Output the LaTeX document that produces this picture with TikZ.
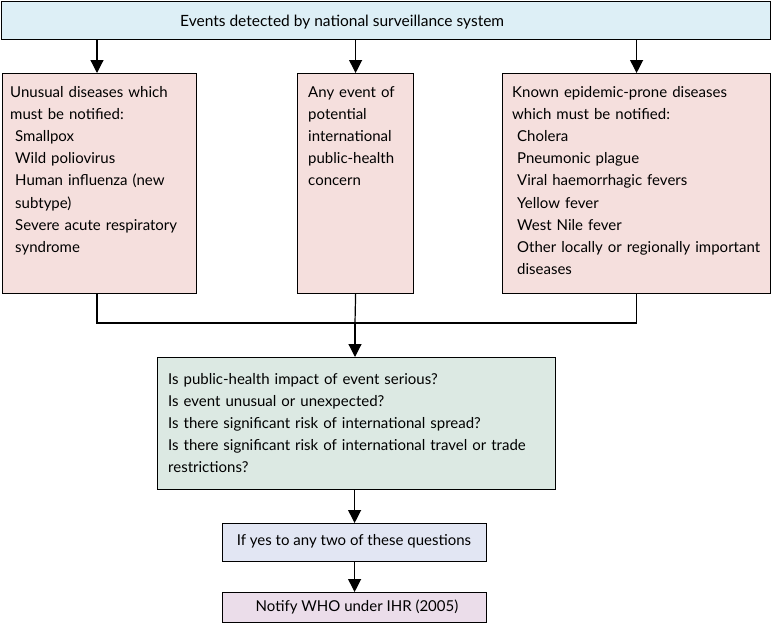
\documentclass[tikz,border=0pt]{standalone}
\usepackage{fontspec}
\setmainfont{Lato}
\usetikzlibrary{arrows.meta}
\definecolor{topblue}{HTML}{DDEFF6}
\definecolor{pinkf}{HTML}{F5DFDD}
\definecolor{greenf}{HTML}{DCE9E3}
\definecolor{bluef}{HTML}{E2E6F3}
\definecolor{purpf}{HTML}{EBDDEA}
\begin{document}
\begin{tikzpicture}[x=1pt,y=-1pt,
  box/.style={draw, line width=1.2pt, inner sep=0pt, anchor=north west},
  txt/.style={inner sep=0pt, anchor=base west, align=left, font=\fontsize{15}{22.2}\selectfont},
  ctxt/.style={inner sep=0pt, anchor=base, font=\fontsize{15}{22.2}\selectfont},
  arr/.style={-{Triangle[length=13pt,width=13pt]}, line width=1.2pt},
  ln/.style={line width=1.2pt}]
\useasboundingbox (0,0) rectangle (772,632);
% boxes
\node[box, fill=topblue, minimum width=769pt, minimum height=38pt] (top) at (1,1) {};
\node[box, fill=pinkf, minimum width=194pt, minimum height=220pt] (left) at (2,73) {};
\node[box, fill=pinkf, minimum width=116pt, minimum height=220pt] (mid) at (297,73) {};
\node[box, fill=pinkf, minimum width=268pt, minimum height=220pt] (right) at (502,73) {};
\node[box, fill=greenf, minimum width=398pt, minimum height=132pt] (q) at (157,357) {};
\node[box, fill=bluef, minimum width=264pt, minimum height=38pt] (yes) at (222,523) {};
\node[box, fill=purpf, minimum width=264pt, minimum height=30pt] (who) at (222,592) {};
% texts
\node[txt, font=\fontsize{15.5}{22.2}\selectfont] (toptxt) at (180,26) {Events detected by national surveillance system};
\node[txt, text width=185pt] (lefttxt) at (10,97) {Unusual diseases which\\must be notified:\\
\hspace*{5pt}Smallpox\\\hspace*{5pt}Wild poliovirus\\\hspace*{5pt}Human influenza (new\\\hspace*{5pt}subtype)\\
\hspace*{5pt}Severe acute respiratory\\\hspace*{5pt}syndrome};
\node[txt, text width=105pt] (midtxt) at (308,97) {Any event of\\potential\\international\\public-health\\concern};
\node[txt, text width=255pt] (righttxt) at (512,97) {Known epidemic-prone diseases\\which must be notified:\\
\hspace*{5pt}Cholera\\\hspace*{5pt}Pneumonic plague\\\hspace*{5pt}Viral haemorrhagic fevers\\\hspace*{5pt}Yellow fever\\
\hspace*{5pt}West Nile fever\\\hspace*{5pt}Other locally or regionally important\\\hspace*{5pt}diseases};
\node[txt, text width=385pt] (qtxt) at (168,384) {Is public-health impact of event serious?\\Is event unusual or unexpected?\\
Is there significant risk of international spread?\\Is there significant risk of international travel or trade\\restrictions?};
\node[ctxt] (yestxt) at (354,545) {If yes to any two of these questions};
\node[ctxt] (whotxt) at (357,611) {Notify WHO under IHR (2005)};
% connectors
\coordinate (j) at (355,323);
\coordinate (lx) at (97,0);
\draw[arr] (top.south -| lx) -- (left.north -| lx);
\draw[arr] (top.south -| mid.north) -- (mid.north);
\draw[arr] (top.south -| right.north) -- (right.north);
\draw[ln] (left.south -| lx) |- (j);
\draw[ln] (right.south) |- (j);
\draw[ln] (mid.south) -- (j);
\draw[arr] (j) -- (q.north -| j);
\draw[arr] (q.south -| yes.north) -- (yes.north);
\draw[arr] (yes.south) -- (who.north);
\end{tikzpicture}
\end{document}
